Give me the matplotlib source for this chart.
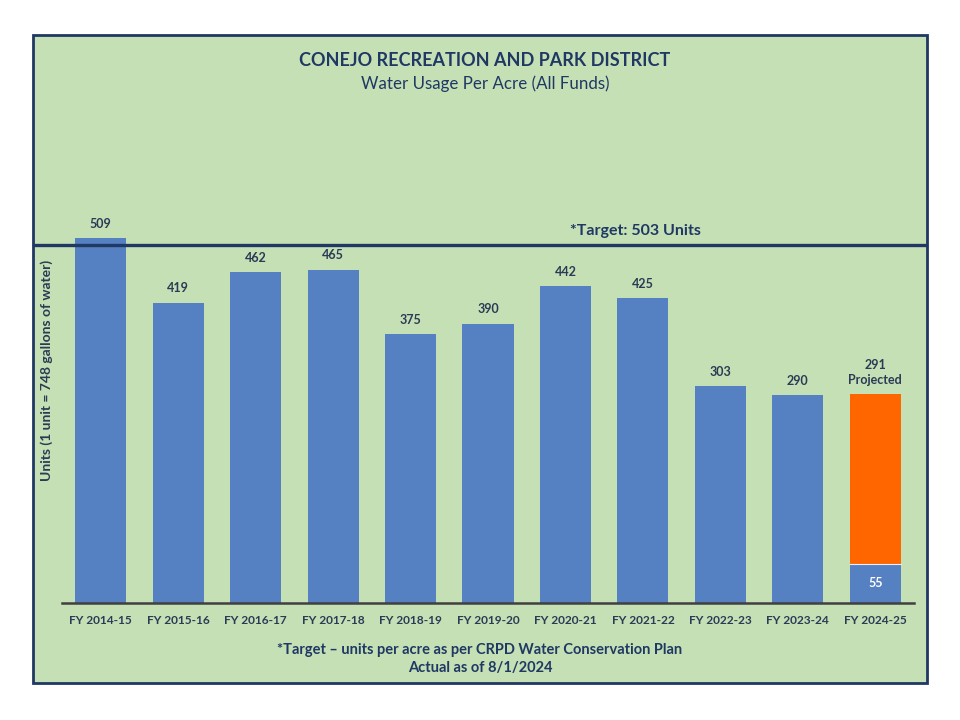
import matplotlib.pyplot as plt
from matplotlib.patches import Rectangle
from matplotlib.lines import Line2D
from matplotlib.transforms import blended_transform_factory

plt.rcParams['font.family'] = ['Lato', 'DejaVu Sans']

# data
years = ['FY 2014-15', 'FY 2015-16', 'FY 2016-17', 'FY 2017-18', 'FY 2018-19',
         'FY 2019-20', 'FY 2020-21', 'FY 2021-22', 'FY 2022-23', 'FY 2023-24',
         'FY 2024-25']
actual = [509, 419, 462, 465, 375, 390, 442, 425, 303, 290, 55]
projected_total = 291
target = 503

green = '#C5E0B4'
navy = '#1F3864'
blue = '#5580C1'
orange = '#FF6600'
txt = '#2B3A55'

fig = plt.figure(figsize=(9.6, 7.2), dpi=100)
fig.patch.set_facecolor('white')

# green panel with navy border
panel = Rectangle((33 / 960, 1 - 683 / 720), 894 / 960, 648 / 720,
                  transform=fig.transFigure, facecolor=green,
                  edgecolor=navy, linewidth=2, zorder=-5)
fig.patches.append(panel)

ax = fig.add_axes([62 / 960, 117 / 720, 852 / 960, 430 / 720])
ax.set_facecolor('none')
x = list(range(len(years)))
ax.bar(x, actual, width=0.66, color=blue, zorder=2)
# projected remainder of last year
last = len(years) - 1
ax.bar(last, projected_total - actual[last], bottom=actual[last], width=0.66,
       color=orange, zorder=2)
ax.plot([last - 0.33, last + 0.33], [actual[last], actual[last]],
        color='#E8EEF8', linewidth=0.8, zorder=3)

ax.set_xlim(-0.5, len(years) - 0.5)
ax.set_ylim(0, 600)
for s in ['top', 'right', 'left']:
    ax.spines[s].set_visible(False)
ax.spines['bottom'].set_color('#404040')
ax.spines['bottom'].set_linewidth(1.8)
ax.set_yticks([])
ax.set_xticks(x)
ax.set_xticklabels(years, fontsize=8.6, fontweight='bold', color=txt)
ax.tick_params(axis='x', length=0, pad=9)

for i, v in enumerate(actual[:-1]):
    ax.annotate(str(v), (i, v), xytext=(0, 6), textcoords='offset points',
                ha='center', va='bottom', fontsize=9, fontweight='bold', color=txt)
ax.text(last, actual[last] / 2 + 1, str(actual[last]), ha='center', va='center',
        fontsize=9, fontweight='bold', color='white')
ax.annotate(f'{projected_total}\nProjected', (last, projected_total), xytext=(0, 6),
            textcoords='offset points', ha='center', va='bottom', fontsize=9,
            fontweight='bold', color=txt, linespacing=1.3)

# target line across the whole panel
tr = blended_transform_factory(fig.transFigure, ax.transData)
fig.lines.append(Line2D([34 / 960, 926 / 960], [target - 4, target - 4], transform=tr,
                        color=navy, linewidth=2.4, zorder=3))
ax.text(635 / 960, target + 7, f'*Target: {target} Units', transform=tr,
        ha='center', va='bottom', fontsize=11.5, fontweight='bold', color=navy)

ax.set_ylabel('Units (1 unit = 748 gallons of water)', fontsize=10,
              fontweight='bold', color=txt)
ax.yaxis.set_label_coords(-9 / 852, 233 / 430)

fig.text(485 / 960, 1 - 60 / 720, 'CONEJO RECREATION AND PARK DISTRICT',
         ha='center', va='center', fontsize=13, fontweight='bold', color=navy)
fig.text(485 / 960, 1 - 84 / 720, 'Water Usage Per Acre (All Funds)',
         ha='center', va='center', fontsize=12.2, color=navy)

fig.text(480 / 960, 1 - 650 / 720,
         '*Target \u2013 units per acre as per CRPD Water Conservation Plan',
         ha='center', va='center', fontsize=10.5, fontweight='bold', color=navy)
fig.text(480 / 960, 1 - 668 / 720, 'Actual as of 8/1/2024',
         ha='center', va='center', fontsize=10.5, fontweight='bold', color=navy)

fig.savefig('out.png', dpi=100, facecolor='white')
